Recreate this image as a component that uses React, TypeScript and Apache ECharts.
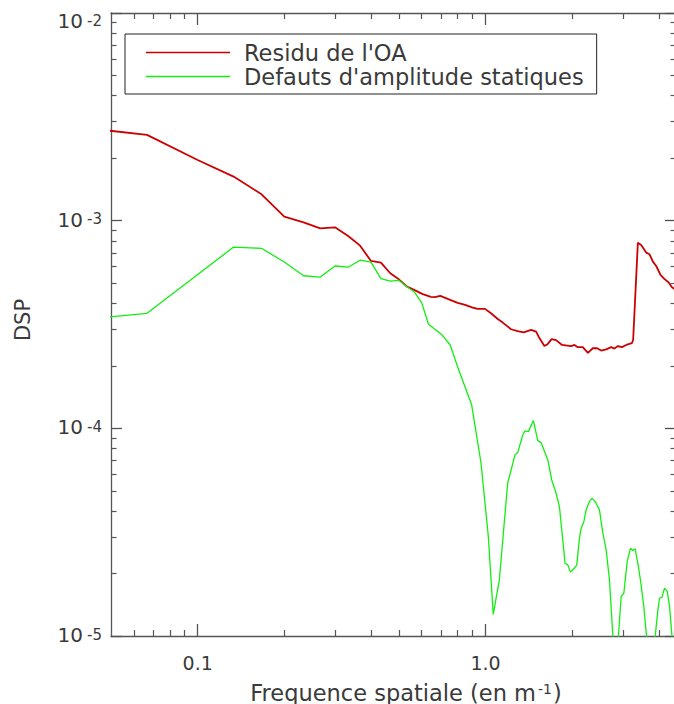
import { useEffect, useRef } from 'react';
import * as echarts from 'echarts';

// ---- data (frequency in m^-1, DSP) ----
const redFreq = [0.0333, 0.0667, 0.1, 0.1333, 0.1667, 0.2, 0.2333, 0.2667, 0.3, 0.3333, 0.3667, 0.4, 0.4333, 0.4667, 0.5, 0.5333, 0.565, 0.605, 0.646, 0.667, 0.696, 0.739, 0.8, 0.844, 0.903, 0.939, 0.996, 1.045, 1.103, 1.148, 1.227, 1.294, 1.358, 1.44, 1.499, 1.539, 1.602, 1.646, 1.697, 1.759, 1.845, 1.983, 2.037, 2.093, 2.178, 2.268, 2.36, 2.443, 2.522, 2.625, 2.733, 2.805, 2.883, 2.977, 3.083, 3.225, 3.258, 3.383, 3.474, 3.616, 3.714, 3.816, 3.918, 4.055, 4.188, 4.323, 4.444, 4.537, 4.65];
const redDsp = [2.88e-3, 2.59e-3, 1.96e-3, 1.63e-3, 1.34e-3, 1.045e-3, 9.82e-4, 9.18e-4, 9.29e-4, 8.44e-4, 7.58e-4, 6.4e-4, 6.28e-4, 5.58e-4, 5.22e-4, 4.82e-4, 4.64e-4, 4.43e-4, 4.3e-4, 4.28e-4, 4.34e-4, 4.2e-4, 4.02e-4, 3.94e-4, 3.81e-4, 3.76e-4, 3.76e-4, 3.58e-4, 3.36e-4, 3.23e-4, 3.0e-4, 2.94e-4, 2.9e-4, 2.98e-4, 2.92e-4, 2.72e-4, 2.49e-4, 2.55e-4, 2.69e-4, 2.66e-4, 2.52e-4, 2.49e-4, 2.52e-4, 2.46e-4, 2.46e-4, 2.31e-4, 2.43e-4, 2.43e-4, 2.37e-4, 2.4e-4, 2.46e-4, 2.42e-4, 2.49e-4, 2.46e-4, 2.52e-4, 2.57e-4, 2.67e-4, 7.83e-4, 7.64e-4, 7.02e-4, 6.89e-4, 6.35e-4, 6.05e-4, 5.48e-4, 5.23e-4, 5.05e-4, 4.78e-4, 4.69e-4, 4.6e-4];

const greenFreq = [0.0333, 0.0667, 0.1333, 0.1667, 0.2, 0.2333, 0.2667, 0.3, 0.3333, 0.3667, 0.4, 0.4333, 0.4667, 0.5, 0.5333, 0.565, 0.6, 0.634, 0.667, 0.706, 0.754, 0.8, 0.895, 0.965, 1.023, 1.064, 1.117, 1.194, 1.266, 1.294, 1.347, 1.372, 1.409, 1.467, 1.519, 1.56, 1.646, 1.699, 1.759, 1.806, 1.841, 1.89, 1.932, 1.972, 2.037, 2.076, 2.12, 2.149, 2.196, 2.237, 2.296, 2.346, 2.404, 2.488, 2.557, 2.625, 2.696, 2.77, 2.833, 2.896, 2.96, 3.025, 3.106, 3.19, 3.251, 3.311, 3.383, 3.454, 3.55, 3.625, 3.752, 3.887, 3.972, 4.023, 4.102, 4.188, 4.279, 4.359, 4.444, 4.54];
const greenDsp = [3.27e-4, 3.58e-4, 7.46e-4, 7.36e-4, 6.32e-4, 5.43e-4, 5.35e-4, 6.05e-4, 5.97e-4, 6.45e-4, 6.32e-4, 5.26e-4, 5.11e-4, 5.16e-4, 4.81e-4, 4.55e-4, 4.03e-4, 3.17e-4, 3.0e-4, 2.82e-4, 2.52e-4, 1.98e-4, 1.3e-4, 6.79e-5, 3.01e-5, 1.27e-5, 1.86e-5, 5.44e-5, 7.45e-5, 7.64e-5, 9.29e-5, 9.72e-5, 9.64e-5, 1.09e-4, 8.73e-5, 8.53e-5, 7.05e-5, 5.64e-5, 4.87e-5, 4.2e-5, 3.24e-5, 2.24e-5, 2.2e-5, 2.03e-5, 2.12e-5, 2.2e-5, 2.96e-5, 3.3e-5, 3.55e-5, 4.05e-5, 4.44e-5, 4.61e-5, 4.44e-5, 4.05e-5, 3.13e-5, 2.6e-5, 1.86e-5, 1.0e-5, 6e-6, 1.0e-5, 1.55e-5, 1.61e-5, 2.28e-5, 2.65e-5, 2.58e-5, 2.63e-5, 2.24e-5, 1.86e-5, 1.38e-5, 1.0e-5, 5e-6, 1.0e-5, 1.34e-5, 1.52e-5, 1.54e-5, 1.7e-5, 1.64e-5, 1.39e-5, 1.0e-5, 7e-6];

const seriesNames = ["Residu de l'OA", "Defauts d'amplitude statiques"];
const seriesColors = ['#cc0000', '#11ee11'];

// ---- axes ----
const xRange = [0.05, 4.59];
const yRange = [1e-5, 1e-2];
const xMajorTicks = [0.1, 1.0];
const xMajorLabels = ['0.1', '1.0'];
const xMinorTicks = [0.06, 0.07, 0.08, 0.09, 0.2, 0.3, 0.4, 0.5, 0.6, 0.7, 0.8, 0.9, 2, 3, 4];
const yMajorTicks = [1e-5, 1e-4, 1e-3, 1e-2];
const yMajorExponents = ['-5', '-4', '-3', '-2'];
const yMinorTicks = [2e-5, 3e-5, 4e-5, 5e-5, 6e-5, 7e-5, 8e-5, 9e-5, 2e-4, 3e-4, 4e-4, 5e-4, 6e-4, 7e-4, 8e-4, 9e-4, 2e-3, 3e-3, 4e-3, 5e-3, 6e-3, 7e-3, 8e-3, 9e-3];
const xTitle = ['Frequence spatiale (en m', '-1', ')'];
const yTitle = 'DSP';

const FONT = 'DejaVu Sans';
const AXIS_COLOR = '#555';
const TEXT_COLOR = '#3a3a3a';

const lg = (v: number) => Math.log10(v);

function findIdx(arr: number[], v: number) {
  let best = 0;
  let bd = Infinity;
  arr.forEach((t, i) => {
    const d = Math.abs(lg(t) - v);
    if (d < bd) { bd = d; best = i; }
  });
  return best;
}

export default function App() {
  const ref = useRef<HTMLDivElement>(null);
  useEffect(() => {
    document.body.style.margin = '0';
    document.body.style.overflow = 'hidden';
    document.documentElement.style.overflow = 'hidden';
    if (!ref.current) return;
    const chart = echarts.init(ref.current, undefined, { renderer: 'svg' });

    const xMin = lg(xRange[0]);
    const xMax = lg(xRange[1]);
    const yMin = lg(yRange[0]);
    const yMax = lg(yRange[1]);

    const baseX = (position: string) => ({
      type: 'value',
      position,
      min: xMin,
      max: xMax,
      splitLine: { show: false },
      axisLine: { show: false, onZero: false, lineStyle: { color: AXIS_COLOR, width: 1.3 } },
      axisLabel: { show: false },
    });
    const baseY = (position: string) => ({
      type: 'value',
      position,
      min: yMin,
      max: yMax,
      splitLine: { show: false },
      axisLine: { show: false, onZero: false, lineStyle: { color: AXIS_COLOR, width: 1.3 } },
      axisLabel: { show: false },
    });

    const majorTick = (vals: number[], len: number, color = AXIS_COLOR) => ({
      show: true,
      inside: true,
      length: len,
      customValues: vals.map(lg),
      lineStyle: { color, width: 1.3 },
    });
    const minorTick = (vals: number[], len: number, color = AXIS_COLOR) => ({
      show: true,
      inside: true,
      length: len,
      customValues: vals.map(lg),
      lineStyle: { color, width: 1.2 },
    });

    const option: any = {
      animation: false,
      grid: { left: 111, right: 4, top: 13, bottom: 68, containLabel: false, outerBoundsMode: 'none', show: false },
      legend: {
        left: 125,
        top: 34,
        orient: 'vertical',
        data: seriesNames,
        icon: 'rect',
        itemWidth: 84,
        itemHeight: 1.6,
        itemGap: 1,
        padding: [7, 13, 6, 21],
        borderColor: '#222',
        borderWidth: 1,
        selectedMode: false,
        textStyle: { fontFamily: FONT, fontSize: 22.5, color: TEXT_COLOR, padding: [0, 0, 0, 9] },
      },
      xAxis: [
        {
          ...baseX('bottom'),
          axisLine: { show: true, onZero: false, lineStyle: { color: AXIS_COLOR, width: 1.3 } },
          axisTick: majorTick(xMajorTicks, 12),
          axisLabel: {
            show: true,
            customValues: xMajorTicks.map(lg),
            formatter: (v: number) => xMajorLabels[findIdx(xMajorTicks, v)],
            fontFamily: FONT,
            fontSize: 19,
            color: TEXT_COLOR,
            margin: 17,
          },
          name: `{a|${xTitle[0]}}{s|${xTitle[1]}}{a|${xTitle[2]}}`,
          nameLocation: 'middle',
          nameGap: 46,
          nameTextStyle: {
            padding: [0, 0, 0, 25],
            rich: {
              a: { fontFamily: FONT, fontSize: 22.5, color: TEXT_COLOR, lineHeight: 22, verticalAlign: 'bottom' },
              s: { fontFamily: FONT, fontSize: 14, color: TEXT_COLOR, lineHeight: 8, verticalAlign: 'top', padding: [0, 1, 0, 2] },
            },
          },
        },
        { ...baseX('bottom'), axisTick: minorTick(xMinorTicks, 6) },
        {
          ...baseX('top'),
          axisLine: { show: true, onZero: false, lineStyle: { color: AXIS_COLOR, width: 1.3 } },
          axisTick: majorTick(xMajorTicks, 12),
        },
        { ...baseX('top'), axisTick: minorTick(xMinorTicks, 6) },
      ],
      yAxis: [
        {
          ...baseY('left'),
          axisLine: { show: true, onZero: false, lineStyle: { color: AXIS_COLOR, width: 1.3 } },
          axisTick: majorTick(yMajorTicks, 11),
          axisLabel: {
            show: true,
            customValues: yMajorTicks.map(lg),
            formatter: (v: number) => `{b|10}{e|${yMajorExponents[findIdx(yMajorTicks, v)]}}`,
            margin: 9,
            verticalAlignMaxLabel: 'top',
            rich: {
              b: { fontFamily: FONT, fontSize: 20, color: TEXT_COLOR, lineHeight: 18, verticalAlign: 'bottom' },
              e: { fontFamily: FONT, fontSize: 15, color: TEXT_COLOR, lineHeight: 5, verticalAlign: 'top', padding: [0, 0, 0, 4] },
            },
          },
          name: yTitle,
          nameLocation: 'middle',
          nameGap: 78,
          nameRotate: 90,
          nameTextStyle: { fontFamily: FONT, fontSize: 21, color: TEXT_COLOR, padding: [0, 0, 0, 9] },
        },
        { ...baseY('left'), axisTick: minorTick(yMinorTicks, 5.5) },
        { ...baseY('right'), axisTick: majorTick(yMajorTicks, 11, '#505050') },
        { ...baseY('right'), axisTick: minorTick(yMinorTicks, 5.5, '#5a5a5a') },
      ],
      series: [
        {
          type: 'line',
          name: seriesNames[0],
          data: redFreq.map((f, i) => [lg(f), lg(redDsp[i])]),
          xAxisIndex: 0,
          yAxisIndex: 0,
          symbol: 'none',
          showSymbol: false,
          clip: true,
          lineStyle: { color: seriesColors[0], width: 1.8 },
          itemStyle: { color: seriesColors[0] },
          emphasis: { disabled: true },
        },
        {
          type: 'line',
          name: seriesNames[1],
          data: greenFreq.map((f, i) => [lg(f), lg(greenDsp[i])]),
          xAxisIndex: 0,
          yAxisIndex: 0,
          symbol: 'none',
          showSymbol: false,
          clip: true,
          lineStyle: { color: seriesColors[1], width: 1.3 },
          itemStyle: { color: seriesColors[1] },
          emphasis: { disabled: true },
        },
      ],
    };
    chart.setOption(option);
    return () => chart.dispose();
  }, []);
  return <div ref={ref} style={{ width: 680, height: 704 }} />;
}
